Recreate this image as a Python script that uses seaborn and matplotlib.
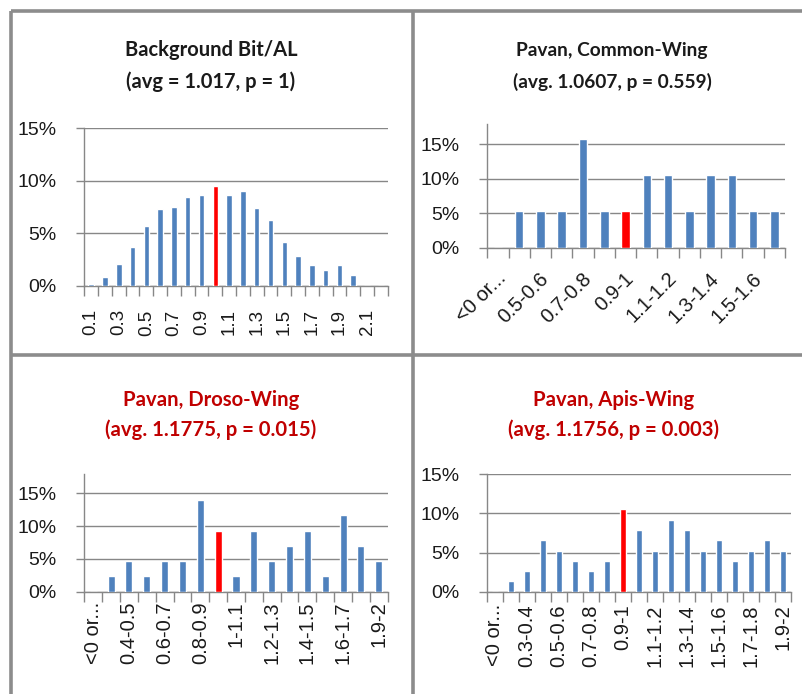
import matplotlib
matplotlib.use("Agg")
import matplotlib.pyplot as plt
import matplotlib.transforms as mtransforms
from matplotlib.lines import Line2D
from matplotlib.ticker import PercentFormatter
import seaborn as sns

sns.set_style("white")
plt.rcParams["font.family"] = ["Liberation Sans", "DejaVu Sans"]

# ---- data -------------------------------------------------------------
bg_bins = ["0.1", "0.2", "0.3", "0.4", "0.5", "0.6", "0.7", "0.8", "0.9", "1.0", "1.1",
           "1.2", "1.3", "1.4", "1.5", "1.6", "1.7", "1.8", "1.9", "2.0", "2.1", "2.2"]
bg_pct = [0.16, 0.86, 2.07, 3.65, 5.72, 7.31, 7.53, 8.42, 8.64, 9.47, 8.64,
          9.02, 7.44, 6.23, 4.13, 2.83, 1.97, 1.46, 1.97, 0.99, 0.0, 0.0]

common_bins = ["<0 or...", "0.4-0.5", "0.5-0.6", "0.6-0.7", "0.7-0.8", "0.8-0.9", "0.9-1",
               "1-1.1", "1.1-1.2", "1.2-1.3", "1.3-1.4", "1.4-1.5", "1.5-1.6", "1.6-1.7"]
common_counts = [0, 1, 1, 1, 3, 1, 1, 2, 2, 1, 2, 2, 1, 1]

droso_bins = ["<0 or...", "0.3-0.4", "0.4-0.5", "0.5-0.6", "0.6-0.7", "0.7-0.8", "0.8-0.9",
              "0.9-1", "1-1.1", "1.1-1.2", "1.2-1.3", "1.3-1.4", "1.4-1.5", "1.5-1.6",
              "1.6-1.7", "1.7-1.8", "1.9-2"]
droso_counts = [0, 1, 2, 1, 2, 2, 6, 4, 1, 4, 2, 3, 4, 1, 5, 3, 2]

apis_bins = ["<0 or...", "0.2-0.3", "0.3-0.4", "0.4-0.5", "0.5-0.6", "0.6-0.7", "0.7-0.8",
             "0.8-0.9", "0.9-1", "1-1.1", "1.1-1.2", "1.2-1.3", "1.3-1.4", "1.4-1.5",
             "1.5-1.6", "1.6-1.7", "1.7-1.8", "1.8-1.9", "1.9-2"]
apis_counts = [0, 1, 2, 5, 4, 3, 2, 3, 8, 6, 4, 7, 6, 4, 5, 3, 4, 5, 4]

titles = [("Background Bit/AL", "(avg = 1.017, p = 1)"),
          ("Pavan, Common-Wing", "(avg. 1.0607, p = 0.559)"),
          ("Pavan, Droso-Wing", "(avg. 1.1775, p = 0.015)"),
          ("Pavan, Apis-Wing", "(avg. 1.1756, p = 0.003)")]
highlight = ["1.0", "0.9-1", "0.9-1", "0.9-1"]

# ---- style ------------------------------------------------------------
BLUE = "#4F81BD"
RED = "#FF0000"
GRID = "#878787"
FRAME = "#8C8C8C"
TEXT = "#1A1A1A"
TITLE_RED = "#C00000"

W, H = 803, 694
fig = plt.figure(figsize=(W / 100, H / 100), dpi=100)
fig.patch.set_facecolor("white")


def axes_px(x0, x1, ytop, ybot):
    return fig.add_axes([x0 / W, 1 - ybot / H, (x1 - x0) / W, (ybot - ytop) / H])


def shares(counts):
    total = sum(counts)
    return [c / total for c in counts]


panels = [
    dict(bins=bg_bins, vals=[v / 100 for v in bg_pct], box=(84.3, 387.7, 128.3, 285.7),
         ymax=0.15, rot=90, pad=17, xsize=13.5, width=0.4),
    dict(bins=common_bins, vals=shares(common_counts), box=(487.3, 785.0, 123.6, 247.7),
         ymax=0.18, rot=45, pad=20, xsize=14.5, width=0.4),
    dict(bins=droso_bins, vals=shares(droso_counts), box=(84.3, 387.7, 473.6, 591.7),
         ymax=0.18, rot=90, pad=7, xsize=14.5, width=0.4),
    dict(bins=apis_bins, vals=shares(apis_counts), box=(487.0, 790.7, 474.3, 591.7),
         ymax=0.15, rot=90, pad=9, xsize=14.5, width=0.4),
]

for p, hl in zip(panels, highlight):
    ax = axes_px(*p["box"])
    colors = [RED if b == hl else BLUE for b in p["bins"]]
    sns.barplot(x=p["bins"], y=p["vals"], hue=p["bins"], palette=colors, legend=False,
                order=p["bins"], hue_order=p["bins"], width=p["width"], saturation=1,
                ax=ax, zorder=3)
    n = len(p["bins"])
    ax.set_xlim(-0.5, n - 0.5)
    ax.set_ylim(0, p["ymax"])
    ax.set_xlabel("")
    ax.set_ylabel("")

    ax.set_yticks([0, 0.05, 0.10, 0.15])
    ax.yaxis.set_major_formatter(PercentFormatter(1.0, decimals=0))
    ax.yaxis.grid(True, color=GRID, lw=1)
    ax.xaxis.grid(False)
    ax.set_axisbelow(True)
    ax.tick_params(axis="y", length=6, width=1, color=GRID, pad=14,
                   labelsize=14, labelcolor=TEXT, left=True)

    # category boundary ticks and every-other category label
    ax.set_xticks([i - 0.5 for i in range(n + 1)], minor=True)
    shown = list(range(0, n, 2))
    ax.set_xticks(shown, labels=[p["bins"][i] for i in shown])
    ax.tick_params(axis="x", which="minor", length=7, width=1, color=GRID, bottom=True)
    ax.tick_params(axis="x", which="major", length=0, pad=p["pad"],
                   labelsize=p["xsize"], labelcolor=TEXT)
    if p["rot"] == 90:
        for t in ax.get_xticklabels():
            t.set_rotation(90)
            t.set_ha("center")
            t.set_va("top")
    else:
        offset = mtransforms.ScaledTranslation(4 / 72, 0, fig.dpi_scale_trans)
        for t in ax.get_xticklabels():
            t.set_rotation(45)
            t.set_ha("right")
            t.set_va("center")
            t.set_rotation_mode("anchor")
            t.set_transform(t.get_transform() + offset)

    for side in ("top", "right"):
        ax.spines[side].set_visible(False)
    for side in ("left", "bottom"):
        ax.spines[side].set_color(GRID)
        ax.spines[side].set_linewidth(1)

# ---- panel titles -------------------------------------------------------
title_pos = [(211, 55.7, 88.0, TEXT, 14.5), (612, 56.2, 88.0, TEXT, 13.8),
             (211, 405.7, 436.5, TITLE_RED, 14.6), (614, 405.7, 436.5, TITLE_RED, 14.6)]
for (l1, l2), (cx, y1, y2, col, fs) in zip(titles, title_pos):
    for txt, yy in ((l1, y1), (l2, y2)):
        fig.text(cx / W, 1 - yy / H, txt, ha="center", va="baseline", fontsize=fs,
                 fontweight="bold", color=col, family=["Lato", "DejaVu Sans"])

# ---- table frame --------------------------------------------------------
frame_lw = 2.6
for (xa, ya), (xb, yb) in [((11, 11), (W, 11)), ((11, 11), (11, H)),
                           ((413, 11), (413, H)), ((11, 355), (W, 355))]:
    fig.add_artist(Line2D([xa / W, xb / W], [1 - ya / H, 1 - yb / H],
                          transform=fig.transFigure, color=FRAME, lw=frame_lw,
                          solid_capstyle="butt"))

fig.savefig("out.png", dpi=100, facecolor="white")
